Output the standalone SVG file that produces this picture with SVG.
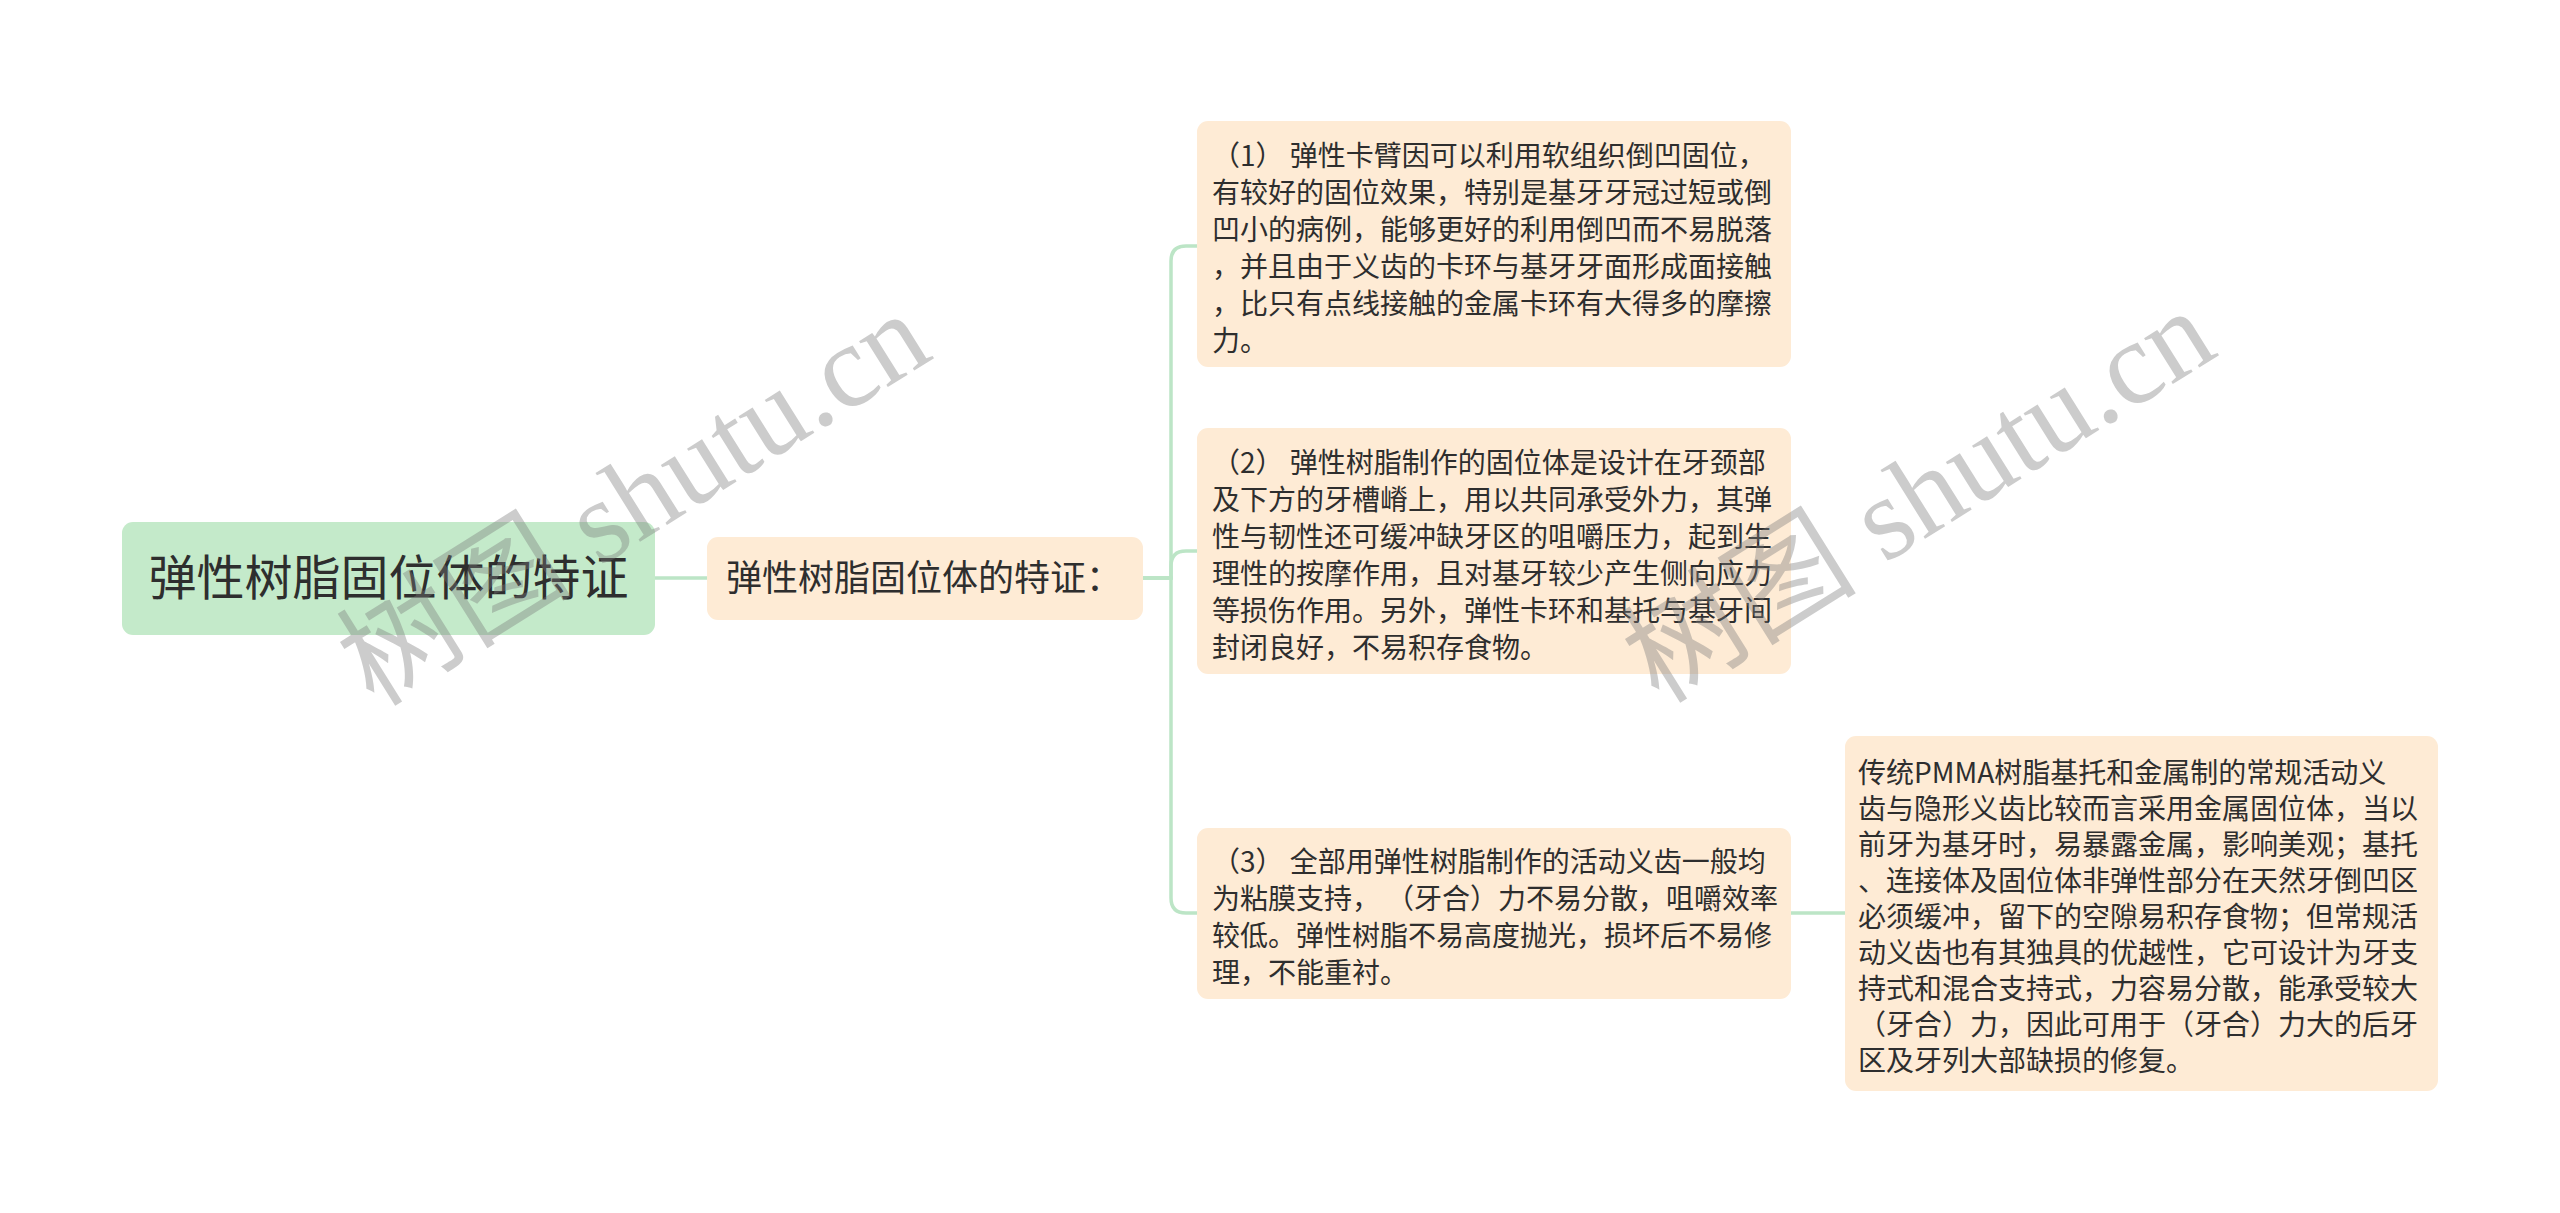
<svg xmlns="http://www.w3.org/2000/svg" width="2560" height="1213" viewBox="0 0 2560 1213">
<style>
.bg{fill:#ffffff}
.root{fill:#c4eaca}
.sub{fill:#feebd5}
.t{font-family:"Noto Sans CJK SC","Noto Sans",sans-serif;fill:#2e2e2e}
.body{font-size:28px}
.conn{fill:none;stroke:#bce5c6;stroke-width:3.5;stroke-linecap:round}
.wm{font-family:"Liberation Serif","Noto Sans CJK SC",serif;font-size:118px;fill:#7a7a7a;opacity:0.38}
</style>
<rect class="bg" x="0" y="0" width="2560" height="1213"/>
<g id="connectors">
<path class="conn" d="M655 578 L708 578"/>
<path class="conn" d="M1143 578 L1171 578 L1171 261 Q1171 246 1186 246 L1197 246"/>
<path class="conn" d="M1143 578 L1171 578 L1171 566 Q1171 551 1186 551 L1197 551"/>
<path class="conn" d="M1143 578 L1171 578 L1171 898 Q1171 913 1186 913 L1197 913"/>
<path class="conn" d="M1791 913 L1845 913"/>
</g>
<g id="root">
<rect class="root" x="122" y="522" width="533" height="113" rx="11"/>
<text class="t" x="388.5" y="595" font-size="48" text-anchor="middle">弹性树脂固位体的特证</text>
</g>
<g id="n-main">
<rect class="sub" x="707" y="537" width="436" height="83" rx="11"/>
<text class="t" x="726" y="591" font-size="36">弹性树脂固位体的特证：</text>
</g>
<g id="n1">
<rect class="sub" x="1197" y="121" width="594" height="246" rx="11"/>
<text class="t body">
<tspan x="1212" y="166">（1） 弹性卡臂因可以利用软组织倒凹固位，</tspan>
<tspan x="1212" y="203">有较好的固位效果，特别是基牙牙冠过短或倒</tspan>
<tspan x="1212" y="240">凹小的病例，能够更好的利用倒凹而不易脱落</tspan>
<tspan x="1212" y="277">，并且由于义齿的卡环与基牙牙面形成面接触</tspan>
<tspan x="1212" y="314">，比只有点线接触的金属卡环有大得多的摩擦</tspan>
<tspan x="1212" y="351">力。</tspan>
</text>
</g>
<g id="n2">
<rect class="sub" x="1197" y="428" width="594" height="246" rx="11"/>
<text class="t body">
<tspan x="1212" y="473">（2） 弹性树脂制作的固位体是设计在牙颈部</tspan>
<tspan x="1212" y="510">及下方的牙槽嵴上，用以共同承受外力，其弹</tspan>
<tspan x="1212" y="547">性与韧性还可缓冲缺牙区的咀嚼压力，起到生</tspan>
<tspan x="1212" y="584">理性的按摩作用，且对基牙较少产生侧向应力</tspan>
<tspan x="1212" y="621">等损伤作用。另外，弹性卡环和基托与基牙间</tspan>
<tspan x="1212" y="658">封闭良好，不易积存食物。</tspan>
</text>
</g>
<g id="n3">
<rect class="sub" x="1197" y="828" width="594" height="171" rx="11"/>
<text class="t body">
<tspan x="1212" y="872">（3） 全部用弹性树脂制作的活动义齿一般均</tspan>
<tspan x="1212" y="909">为粘膜支持，</tspan><tspan dx="20">（牙合）力不易分散，咀嚼效率</tspan>
<tspan x="1212" y="946">较低。弹性树脂不易高度抛光，损坏后不易修</tspan>
<tspan x="1212" y="983">理，不能重衬。</tspan>
</text>
</g>
<g id="n4">
<rect class="sub" x="1845" y="736" width="593" height="355" rx="11"/>
<text class="t body">
<tspan x="1858" y="783">传统PMMA树脂基托和金属制的常规活动义</tspan>
<tspan x="1858" y="819">齿与隐形义齿比较而言采用金属固位体，当以</tspan>
<tspan x="1858" y="855">前牙为基牙时，易暴露金属，影响美观；基托</tspan>
<tspan x="1858" y="891">、连接体及固位体非弹性部分在天然牙倒凹区</tspan>
<tspan x="1858" y="927">必须缓冲，留下的空隙易积存食物；但常规活</tspan>
<tspan x="1858" y="963">动义齿也有其独具的优越性，它可设计为牙支</tspan>
<tspan x="1858" y="999">持式和混合支持式，力容易分散，能承受较大</tspan>
<tspan x="1858" y="1035">（牙合）力，因此可用于（牙合）力大的后牙</tspan>
<tspan x="1858" y="1071">区及牙列大部缺损的修复。</tspan>
</text>
</g>
<g id="watermarks">
<text class="wm" transform="translate(374 708) rotate(-32)">树图 shutu.cn</text>
<text class="wm" transform="translate(1659 705) rotate(-32)">树图 shutu.cn</text>
</g>
</svg>
